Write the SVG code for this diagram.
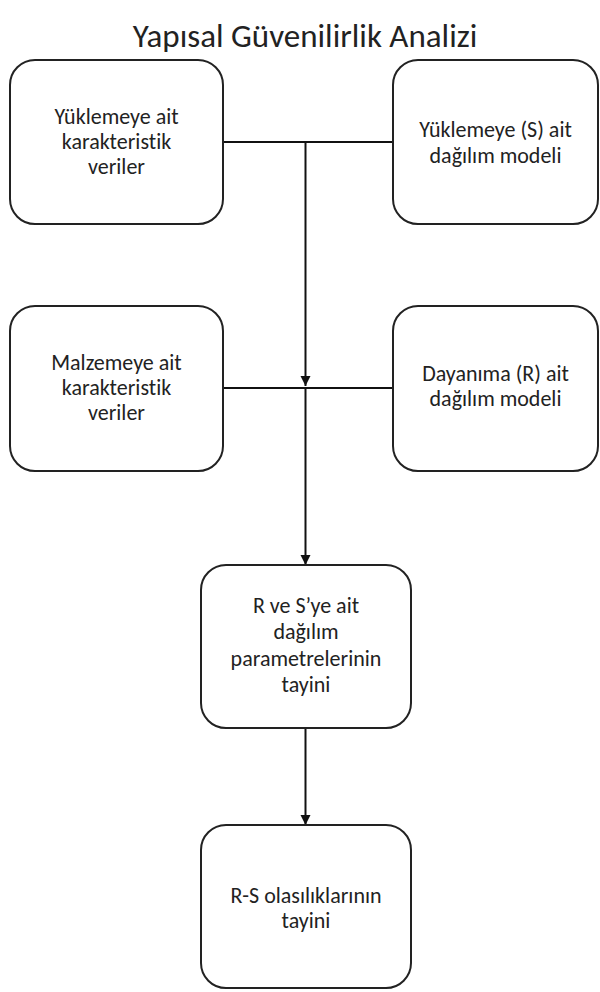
<svg xmlns="http://www.w3.org/2000/svg" width="600" height="992" viewBox="0 0 600 992">
  <style>
    .box { fill: #ffffff; stroke: #222222; stroke-width: 2; }
    .lbl { font-family: Carlito, Lato, "Liberation Sans", sans-serif; font-size: 22px; fill: #222222; text-anchor: middle; font-variant-ligatures: none; }
    .title { font-family: Carlito, Lato, "Liberation Sans", sans-serif; font-size: 33px; fill: #222222; text-anchor: middle; font-variant-ligatures: none; }
    .wire { fill: none; stroke: #111111; stroke-width: 2; }
  </style>
  <defs>
    <marker id="arrow" markerUnits="userSpaceOnUse" markerWidth="11" markerHeight="11" refX="10" refY="5" orient="auto">
      <path d="M0,0 L10,5 L0,10 Z" fill="#111111"/>
    </marker>
  </defs>
  <rect width="600" height="992" fill="#ffffff"/>

  <text class="title" x="305" y="47">Yapısal Güvenilirlik Analizi</text>

  <!-- connectors -->
  <g id="connectors">
    <line class="wire" x1="223" y1="142" x2="393" y2="142"/>
    <line class="wire" x1="305.5" y1="142" x2="305.5" y2="386" marker-end="url(#arrow)"/>
    <line class="wire" x1="223" y1="388" x2="393" y2="388"/>
    <line class="wire" x1="305.5" y1="388" x2="305.5" y2="565" marker-end="url(#arrow)"/>
    <line class="wire" x1="305.5" y1="728" x2="305.5" y2="825" marker-end="url(#arrow)"/>
  </g>

  <g id="load-data">
    <rect class="box" x="10" y="60" width="213" height="164" rx="25" ry="25"/>
    <text class="lbl" x="116.5" y="124">Yüklemeye ait</text>
    <text class="lbl" x="116.5" y="149">karakteristik</text>
    <text class="lbl" x="116.5" y="174">veriler</text>
  </g>

  <g id="load-model">
    <rect class="box" x="393" y="60" width="205" height="164" rx="25" ry="25"/>
    <text class="lbl" x="495.5" y="137">Yüklemeye (S) ait</text>
    <text class="lbl" x="495.5" y="163">dağılım modeli</text>
  </g>

  <g id="material-data">
    <rect class="box" x="10" y="306" width="213" height="165" rx="25" ry="25"/>
    <text class="lbl" x="116.5" y="370">Malzemeye ait</text>
    <text class="lbl" x="116.5" y="395">karakteristik</text>
    <text class="lbl" x="116.5" y="420">veriler</text>
  </g>

  <g id="resistance-model">
    <rect class="box" x="393" y="306" width="205" height="165" rx="25" ry="25"/>
    <text class="lbl" x="495.5" y="381">Dayanıma (R) ait</text>
    <text class="lbl" x="495.5" y="406">dağılım modeli</text>
  </g>

  <g id="parameters">
    <rect class="box" x="201" y="565" width="210" height="163" rx="25" ry="25"/>
    <text class="lbl" x="306" y="613">R ve S’ye ait</text>
    <text class="lbl" x="306" y="639">dağılım</text>
    <text class="lbl" x="306" y="666">parametrelerinin</text>
    <text class="lbl" x="306" y="692">tayini</text>
  </g>

  <g id="probabilities">
    <rect class="box" x="201" y="825" width="210" height="163" rx="25" ry="25"/>
    <text class="lbl" x="306" y="903">R-S olasılıklarının</text>
    <text class="lbl" x="306" y="928">tayini</text>
  </g>
</svg>
